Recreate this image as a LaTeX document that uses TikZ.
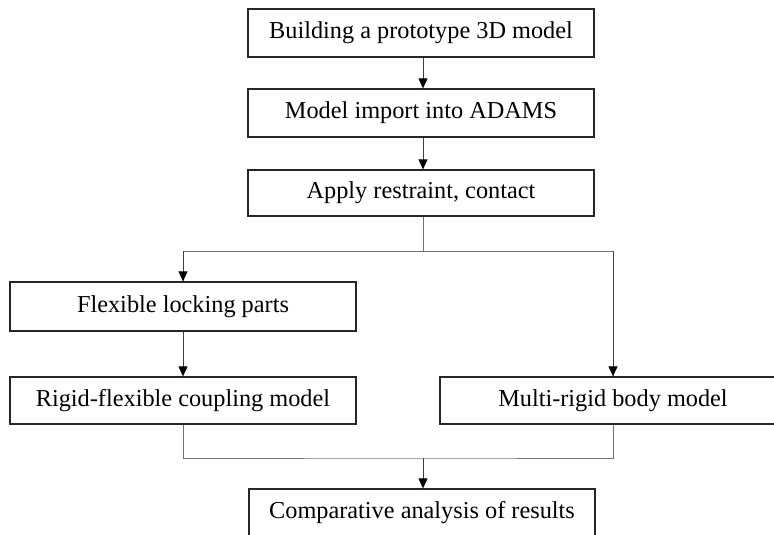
\documentclass[tikz,border=0pt]{standalone}
\usepackage{fontspec}
\setmainfont{Liberation Serif}
\usetikzlibrary{arrows.meta}
\begin{document}
\begin{tikzpicture}[x=1pt,y=-1pt,
  box/.style={draw=black!85,line width=1.3pt,rectangle,minimum width=346pt,minimum height=48pt,inner sep=0pt,font=\fontsize{24.3}{27}\selectfont},
  conn/.style={draw=black!55,line width=0.9pt},
  arr/.style={draw=black!75,line width=0.9pt,-{Triangle[length=10pt,width=9pt,color=black]}}]
\useasboundingbox (0,0) rectangle (774,535);
\clip (0,0) rectangle (774,535);
\node[box] (b1) at (421,33) {Building a prototype 3D model};
\node[box] (b2) at (421,113) {Model import into ADAMS};
\node[box,minimum height=46pt] (b3) at (421,193) {Apply restraint, contact};
\node[box,minimum height=49pt] (fl) at (183,306.5) {Flexible locking parts};
\node[box,minimum height=47pt] (rf) at (183,400.5) {Rigid-flexible coupling model};
\node[box,minimum height=47pt,minimum width=370pt] (mr) at (625,400.5) {\hspace*{-24pt}Multi-rigid body model};
\node[box] (cr) at (422,513) {Comparative analysis of results};
\coordinate (split) at (423,251);
\coordinate (join) at (423,458);
\coordinate (mrin) at (613,0);
\draw[arr] (b1.south -| 423,0) -- (b2.north -| 423,0);
\draw[arr] (b2.south -| 423,0) -- (b3.north -| 423,0);
\draw[conn] (b3.south -| split) -- (split);
\draw[conn] (split) -| (fl.north);
\draw[arr] (split -| fl.north) -- (fl.north);
\draw[conn] (split) -| (mr.north -| mrin);
\draw[arr] (split -| mrin) -- (mr.north -| mrin);
\draw[arr] (fl.south) -- (rf.north);
\draw[conn] (rf.south) |- (join) -| (mr.south -| mrin);
\draw[arr] (join) -- (cr.north -| join);
\end{tikzpicture}
\end{document}
